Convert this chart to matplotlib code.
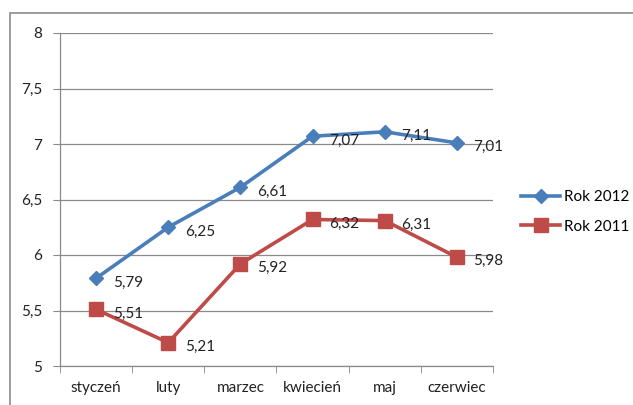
import matplotlib.pyplot as plt
from matplotlib.patches import Rectangle

miesiace = ['styczeń', 'luty', 'marzec', 'kwiecień', 'maj', 'czerwiec']
rok_2012 = [5.79, 6.25, 6.61, 7.07, 7.11, 7.01]
rok_2011 = [5.51, 5.21, 5.92, 6.32, 6.31, 5.98]
y_ticks = [5, 5.5, 6, 6.5, 7, 7.5, 8]

plt.rcParams['font.family'] = ['Lato', 'DejaVu Sans']

W, H = 633, 405
fig = plt.figure(figsize=(W / 100, H / 100), dpi=100)
fig.patch.set_facecolor('white')

# outer frame (only left/top visible in reference)
fig.add_artist(Rectangle((10 / W, -0.1), 1.2, (H - 13) / H + 0.1, transform=fig.transFigure,
                         fill=False, edgecolor='#8c8c8c', linewidth=1.2))

ax = fig.add_axes([60 / W, 1 - 366 / H, (493 - 60) / W, (366 - 33) / H])
x = list(range(len(miesiace)))

grid = '#8a8a8a'
for yv in y_ticks:
    ax.axhline(yv, color=grid, linewidth=0.9, zorder=0)

blue = '#4a7ebb'
red = '#be4b48'
ax.plot(x, rok_2012, color=blue, linewidth=2.6, marker='D', markersize=7.5,
        label='Rok 2012', zorder=3)
ax.plot(x, rok_2011, color=red, linewidth=2.6, marker='s', markersize=10,
        label='Rok 2011', zorder=3)

fs = 11
for xi, v in zip(x, rok_2012):
    ax.annotate(f'{v:.2f}'.replace('.', ','), (xi, v), xytext=(12, -3),
                textcoords='offset points', va='center', ha='left', fontsize=fs, color='#222222')
for xi, v in zip(x, rok_2011):
    ax.annotate(f'{v:.2f}'.replace('.', ','), (xi, v), xytext=(12, -3),
                textcoords='offset points', va='center', ha='left', fontsize=fs, color='#222222')

ax.set_xlim(-0.5, len(miesiace) - 0.5)
ax.set_ylim(5, 8)
ax.set_yticks(y_ticks)
ax.set_yticklabels([f'{t:g}'.replace('.', ',') for t in y_ticks], fontsize=fs, color='#222222')
ax.set_xticks(x)
ax.set_xticklabels(miesiace, fontsize=fs, color='#222222')
ax.tick_params(axis='x', length=0, pad=11)
ax.tick_params(axis='y', length=5, color=grid, pad=8)
ax.set_xticks([i - 0.5 for i in range(len(miesiace) + 1)], minor=True)
ax.tick_params(axis='x', which='minor', length=5, color=grid)

for s in ['top', 'right']:
    ax.spines[s].set_visible(False)
for s in ['left', 'bottom']:
    ax.spines[s].set_color(grid)
    ax.spines[s].set_linewidth(0.9)

ax.legend(loc='center left', bbox_to_anchor=(507 / W, 1 - 212 / H), bbox_transform=fig.transFigure,
          frameon=False, fontsize=fs, handlelength=2.6, labelspacing=1.0, handletextpad=0.2)

fig.savefig('out.png', dpi=100, facecolor='white')
